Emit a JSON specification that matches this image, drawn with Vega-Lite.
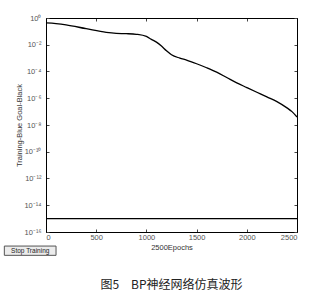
{
  "$schema": "https://vega.github.io/schema/vega-lite/v6.json",
  "autosize": {"type": "none"},
  "padding": {"left": 46, "top": 18, "right": 28, "bottom": 76},
  "width": 251,
  "height": 214,
  "background": "white",
  "config": {
    "view": {"stroke": "black", "strokeWidth": 1},
    "font": "Liberation Sans",
    "axis": {
      "grid": false,
      "domainColor": "black",
      "tickColor": "#444",
      "tickSize": -3,
      "labelFont": "Liberation Sans",
      "labelFontSize": 7.5,
      "labelColor": "#555",
      "titleFont": "Liberation Sans",
      "titleFontSize": 7.5,
      "titleFontWeight": "normal",
      "titleColor": "#333"
    }
  },
  "title": {
    "text": "图5　BP神经网络仿真波形",
    "orient": "bottom",
    "font": "Noto Sans CJK SC",
    "fontSize": 12,
    "fontWeight": "normal",
    "color": "#222",
    "offset": 24
  },
  "datasets": {
    "train": [
      {"epoch": 0, "perf": 0.4266},
      {"epoch": 100, "perf": 0.380},
      {"epoch": 200, "perf": 0.309},
      {"epoch": 400, "perf": 0.158},
      {"epoch": 600, "perf": 0.0832},
      {"epoch": 700, "perf": 0.0708},
      {"epoch": 800, "perf": 0.0676},
      {"epoch": 900, "perf": 0.0603},
      {"epoch": 1000, "perf": 0.0417},
      {"epoch": 1050, "perf": 0.0251},
      {"epoch": 1100, "perf": 0.0158},
      {"epoch": 1150, "perf": 0.00794},
      {"epoch": 1200, "perf": 0.00355},
      {"epoch": 1250, "perf": 0.00178},
      {"epoch": 1333, "perf": 0.001},
      {"epoch": 1400, "perf": 0.000708},
      {"epoch": 1500, "perf": 0.00038},
      {"epoch": 1600, "perf": 0.000191},
      {"epoch": 1700, "perf": 8.91e-5},
      {"epoch": 1800, "perf": 3.55e-5},
      {"epoch": 1900, "perf": 1.41e-5},
      {"epoch": 2000, "perf": 6.31e-6},
      {"epoch": 2100, "perf": 2.82e-6},
      {"epoch": 2200, "perf": 1.26e-6},
      {"epoch": 2300, "perf": 5.62e-7},
      {"epoch": 2400, "perf": 1.91e-7},
      {"epoch": 2450, "perf": 1e-7},
      {"epoch": 2500, "perf": 3.98e-8}
    ],
    "goal": [
      {"epoch": 0, "perf": 1e-15},
      {"epoch": 2500, "perf": 1e-15}
    ],
    "button": [
      {"label": "Stop Training"}
    ]
  },
  "layer": [
    {
      "data": {"name": "train"},
      "mark": {"type": "line", "color": "black", "strokeWidth": 1.3, "interpolate": "monotone"},
      "encoding": {
        "x": {
          "field": "epoch", "type": "quantitative",
          "scale": {"domain": [0, 2500], "nice": false, "zero": false},
          "axis": {"orient": "bottom", "values": [0, 500, 1000, 1500, 2000, 2500], "format": "d", "title": "2500Epochs", "titlePadding": 3, "labelPadding": 4}
        },
        "y": {
          "field": "perf", "type": "quantitative",
          "scale": {"type": "log", "domain": [1e-16, 1], "nice": false},
          "axis": {
            "orient": "left",
            "values": [1, 1e-2, 1e-4, 1e-6, 1e-8, 1e-10, 1e-12, 1e-14, 1e-16],
            "labelExpr": "['10⁰','','10⁻²','','10⁻⁴','','10⁻⁶','','10⁻⁸','','10⁻¹⁰','','10⁻¹²','','10⁻¹⁴','','10⁻¹⁶'][round(-log(datum.value)/LN10)]",
            "title": "Training-Blue  Goal-Black",
            "titlePadding": 0,
            "labelPadding": 8
          }
        }
      }
    },
    {
      "data": {"name": "goal"},
      "mark": {"type": "line", "color": "black", "strokeWidth": 1.3},
      "encoding": {
        "x": {
          "field": "epoch", "type": "quantitative",
          "axis": {"orient": "top", "values": [0, 500, 1000, 1500, 2000, 2500], "labels": false, "title": null}
        },
        "y": {
          "field": "perf", "type": "quantitative",
          "axis": {"orient": "right", "values": [1, 1e-2, 1e-4, 1e-6, 1e-8, 1e-10, 1e-12, 1e-14, 1e-16], "labels": false, "title": null}
        }
      }
    },
    {
      "data": {"name": "button"},
      "mark": {"type": "rect", "fill": "#ececec", "stroke": "#555", "strokeWidth": 1},
      "encoding": {
        "x": {"datum": -415, "type": "quantitative", "axis": null},
        "x2": {"datum": 100},
        "y": {"datum": 8.9e-18, "type": "quantitative", "axis": null},
        "y2": {"datum": 1.8e-18}
      }
    },
    {
      "data": {"name": "button"},
      "mark": {"type": "text", "fontSize": 6.5, "color": "#222", "font": "Liberation Sans"},
      "encoding": {
        "x": {"datum": -157, "type": "quantitative", "axis": null},
        "y": {"datum": 4e-18, "type": "quantitative", "axis": null},
        "text": {"field": "label"}
      }
    }
  ],
  "resolve": {"axis": {"x": "independent", "y": "independent"}}
}
